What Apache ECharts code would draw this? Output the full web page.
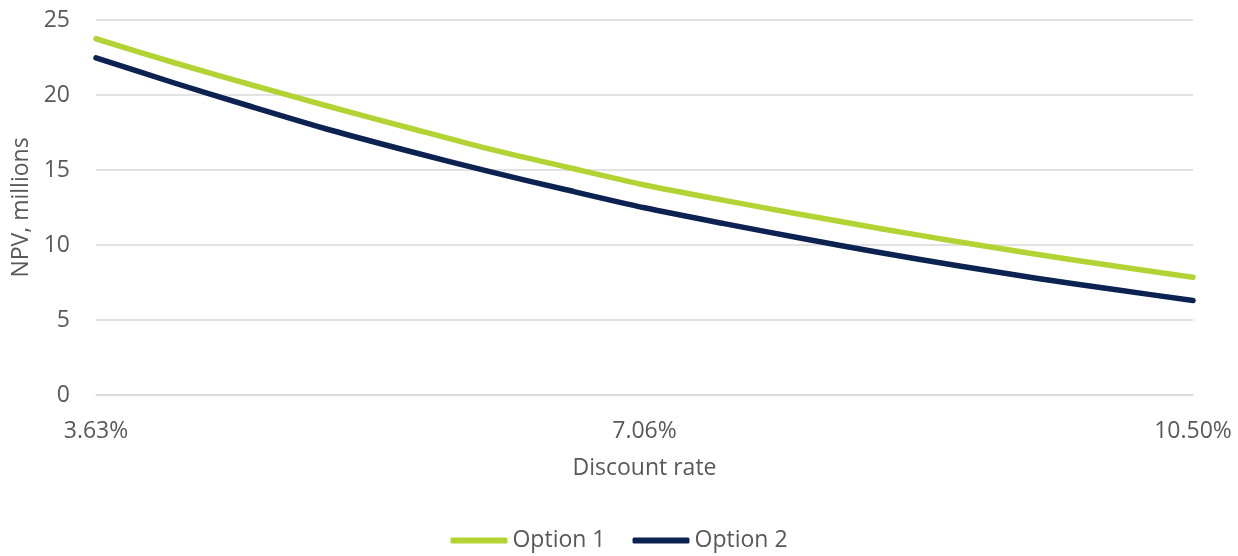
<!DOCTYPE html>
<html>
<head>
<meta charset="utf-8">
<script src="https://cdn.jsdelivr.net/npm/echarts@6/dist/echarts.min.js"></script>
<style>html,body{margin:0;padding:0;background:#fff}#c{width:1238px;height:556px}</style>
</head>
<body>
<div id="c"></div>
<script>
const categories = ['3.63%','4.12%','4.61%','5.10%','5.59%','6.08%','6.57%','7.06%','7.56%','8.05%','8.54%','9.03%','9.52%','10.01%','10.50%'];
const option1 = [23.75,22.15,20.65,19.2,17.8,16.42,15.2,14.0,12.99,12.03,11.1,10.22,9.38,8.6,7.85];
const option2 = [22.48,20.8,19.2,17.65,16.25,14.92,13.68,12.48,11.44,10.45,9.5,8.62,7.78,7.03,6.3];
const yTicks = [0,5,10,15,20,25];

const font = 'Open Sans';
const grey = '#595959';
const chart = echarts.init(document.getElementById('c'));
chart.setOption({
  animation: false,
  grid: {left: 96, right: 45, top: 20, bottom: 161, containLabel: false},
  legend: {
    bottom: -1, left: 'center',
    icon: 'roundRect', itemWidth: 57, itemHeight: 6, itemGap: 27,
    textStyle: {fontFamily: font, fontSize: 23, color: grey},
    data: ['Option 1','Option 2']
  },
  xAxis: {
    type: 'category', data: categories, boundaryGap: false,
    name: 'Discount rate', nameLocation: 'middle', nameGap: 62,
    nameTextStyle: {fontFamily: font, fontSize: 23, color: grey},
    axisLine: {lineStyle: {color: '#d9d9d9', width: 1.5}},
    axisTick: {show: false},
    axisLabel: {interval: 6, margin: 25, fontFamily: font, fontSize: 23, color: grey}
  },
  yAxis: {
    type: 'value', min: yTicks[0], max: yTicks[yTicks.length-1], interval: 5,
    name: 'NPV, millions', nameLocation: 'middle', nameGap: 62,
    nameTextStyle: {fontFamily: font, fontSize: 23, color: grey},
    axisLine: {show: false}, axisTick: {show: false},
    axisLabel: {margin: 26, fontFamily: font, fontSize: 23, color: grey},
    splitLine: {lineStyle: {color: '#d9d9d9', width: 1.5}}
  },
  series: [
    {name: 'Option 1', type: 'line', data: option1, showSymbol: false, symbol: 'none', smooth: 0.25,
     lineStyle: {color: '#b3d334', width: 5.5, cap: 'round', join: 'round'}, itemStyle: {color: '#b3d334'}},
    {name: 'Option 2', type: 'line', data: option2, showSymbol: false, symbol: 'none', smooth: 0.25,
     lineStyle: {color: '#0c2251', width: 5.5, cap: 'round', join: 'round'}, itemStyle: {color: '#0c2251'}}
  ]
});
</script>
</body>
</html>
